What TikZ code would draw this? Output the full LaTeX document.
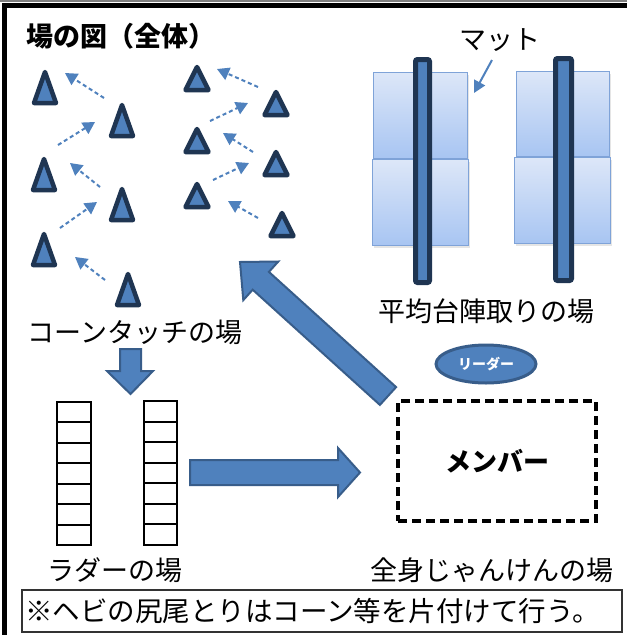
\documentclass[tikz,border=0pt]{standalone}
\usepackage{fontspec}
\setmainfont{Noto Sans CJK JP}
\usetikzlibrary{arrows.meta,shapes.geometric}
\definecolor{cblue}{HTML}{4F81BD}
\definecolor{cdark}{HTML}{1F3552}
\definecolor{cedge}{HTML}{385D8A}
\definecolor{mattop}{HTML}{DDE7F8}
\definecolor{matbot}{HTML}{A8C5F2}
\definecolor{matedge}{HTML}{7FA3D8}
\tikzset{
  conestyle/.style={draw=cdark,fill=cblue,line width=4.5pt,line join=round},
  flowdash/.style={draw=cblue,line width=2pt,dash pattern=on 4pt off 3pt,-{Triangle[length=12pt,width=13pt]}},
  blockarrow/.style={draw=cedge,fill=cblue,line width=2pt,line join=miter},
  matbox/.style={draw=matedge,line width=1pt,top color=mattop,bottom color=matbot},
  matshadow/.style={fill=black,opacity=0.1},
  beam/.style={draw=cdark,fill=cblue,line width=5pt,rounded corners=2pt},
  rung/.style={draw=black,line width=2pt},
  label/.style={font=\fontsize{27}{30}\selectfont,inner sep=0pt},
}
\newcommand\lcone[2]{\draw[conestyle] ({#1-11},{#2-2}) -- (#1,{#2-33}) -- ({#1+11},{#2-2}) -- cycle;}
\newcommand\rcone[2]{\draw[conestyle] ({#1-11.5},{#2-2}) -- (#1,{#2-25}) -- ({#1+11.5},{#2-2}) -- cycle;}
\begin{document}
\begin{tikzpicture}[x=1pt,y=-1pt]
\useasboundingbox (0,0) rectangle (627,635);
\fill[white] (0,0) rectangle (627,635);
% outer frame
\draw[gray,line width=1.5pt] (0,1.2) -- (627,1.2);
\draw[black,line width=4.5pt] (4.5,635) -- (4.5,5.5) -- (627,5.5);
% title
\node[anchor=west,inner sep=0pt,font=\fontsize{27}{30}\selectfont\bfseries] (title) at (26,36) {場の図（全体）};
% cones left group
\lcone{45}{105}\lcone{122}{138}\lcone{44}{192}\lcone{122}{222}\lcone{44}{267}\lcone{128}{307}
% cones right group
\rcone{197}{92}\rcone{276}{117}\rcone{197}{154}\rcone{276}{177}\rcone{197}{209}\rcone{282}{238}
% dashed arrows
\coordinate (a1) at (104,98);  \coordinate (a2) at (65,73);
\coordinate (b1) at (58,145);  \coordinate (b2) at (95,122);
\coordinate (c1) at (100,187); \coordinate (c2) at (70,163);
\coordinate (d1) at (60,228);  \coordinate (d2) at (97,202);
\coordinate (e1) at (105,280); \coordinate (e2) at (75,257);
\coordinate (f1) at (258,87);  \coordinate (f2) at (217,69);
\coordinate (g1) at (210,121); \coordinate (g2) at (248,103);
\coordinate (h1) at (253,152); \coordinate (h2) at (223,133);
\coordinate (i1) at (213,180); \coordinate (i2) at (249,163);
\coordinate (j1) at (258,218); \coordinate (j2) at (228,201);
\foreach \p in {a,b,c,d,e,f,g,h,i,j}{\draw[flowdash] (\p1) -- (\p2);}
% mats
\foreach \xa/\ya/\xb/\yb in {373/72/467/158, 372/159/468/245, 516/71/609/156, 514/157/610/243}{
  \fill[matshadow] (\xa+2,\ya+3) rectangle (\xb+2,\yb+3);
  \draw[matbox] (\xa,\ya) rectangle (\xb,\yb);
}
% beams
\draw[beam] (415.5,59.5) rectangle (429.5,282.5);
\draw[beam] (555.5,58.5) rectangle (571.5,280.5);
% mat label
\node[label] (mat) at (500,40) {マット};
\coordinate (matpt) at (474,93);
\draw[cblue,line width=2pt,-{Triangle[length=12pt,width=12pt]}] (492,60) -- (matpt);
\node[label] (beamlbl) at (486,311) {平均台陣取りの場};
% cone touch label
\node[label] (conelbl) at (135,332) {コーンタッチの場};
% down block arrow
\draw[blockarrow] (120,349) -- (141,349) -- (141,371) -- (153,371) -- (130.5,394) -- (107,371) -- (120,371) -- cycle;
% ladders
\foreach \xl/\xr/\yt in {57/91/402, 144/177/401}{
  \foreach \k in {0,...,6}{
    \draw[rung] (\xl,{\yt+\k*(545-\yt)/7}) rectangle (\xr,{\yt+(\k+1)*(545-\yt)/7});
  }
}
\node[label] (ladlbl) at (115,570) {ラダーの場};
% right block arrow
\draw[blockarrow] (190,460) -- (338,460) -- (338,448) -- (360,472.5) -- (338,497) -- (338,485) -- (190,485) -- cycle;
% diagonal block arrow
\draw[blockarrow] (396.1,387.1) -- (268.9,271.9) -- (278.3,261.5) -- (240,262) -- (243.3,300.1) -- (252.7,289.7) -- (379.9,404.9) -- cycle;
% leader ellipse
\node[ellipse,draw=cedge,fill=cblue,line width=3pt,minimum width=100pt,minimum height=38pt,inner sep=0pt,text=white,font=\fontsize{14}{16}\selectfont\bfseries] (leader) at (486,364) {リーダー};
% member box
\node[draw=black,line width=3.5pt,dash pattern=on 9pt off 5pt,minimum width=198pt,minimum height=120pt,inner sep=0pt,font=\fontsize{26}{30}\selectfont\bfseries] (member) at (497,461) {メンバー};
\node[label] (jankenlbl) at (492,570) {全身じゃんけんの場};
% note box
\node[draw=black!80,line width=1.2pt,minimum width=600pt,minimum height=42pt,inner sep=0pt] (notebox) at (322,611) {};
\node[anchor=west,inner sep=0pt,font=\fontsize{27.5}{30}\selectfont] (note) at (25,611) {※ヘビの尻尾とりはコーン等を片付けて行う。};
\end{tikzpicture}
\end{document}
